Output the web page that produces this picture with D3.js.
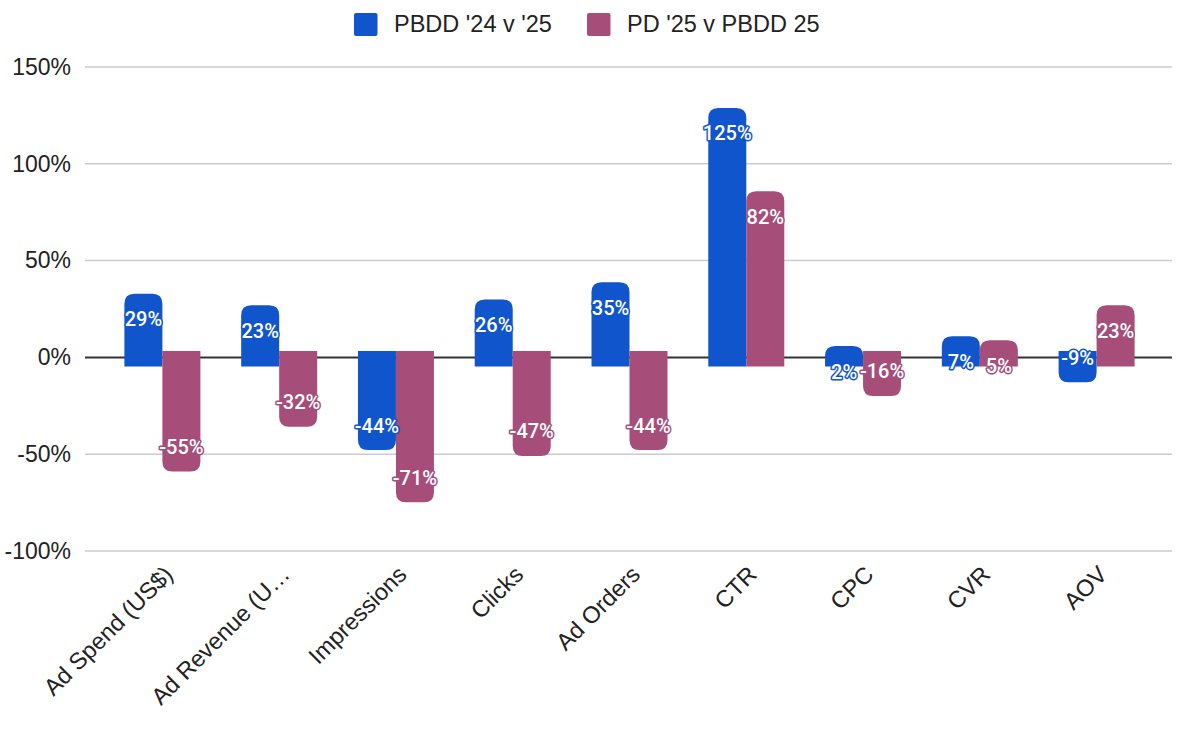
<!DOCTYPE html>
<html>
<head>
<meta charset="utf-8">
<script src="https://cdn.jsdelivr.net/npm/d3@7"></script>
<style>
  body { margin: 0; background: #fff; }
  svg { display: block; }
</style>
</head>
<body>
<div class="vis-bars"></div>
<script>
const categories = ['Ad Spend (US$)', 'Ad Revenue (U…', 'Impressions', 'Clicks', 'Ad Orders', 'CTR', 'CPC', 'CVR', 'AOV'];
const seriesNames = ["PBDD '24 v '25", "PD '25 v PBDD 25"];
const pbdd = [29, 23, -44, 26, 35, 125, 2, 7, -9];
const pd = [-55, -32, -71, -47, -44, 82, -16, 5, 23];
const yTicks = [-100, -50, 0, 50, 100, 150];
const colors = ['#1155cc', '#a64d79'];

const width = 1182;
const height = 738;

const svg = d3.select('.vis-bars')
    .append('svg')
    .attr('width', width)
    .attr('height', height);

const y = d3.scaleLinear().domain([-100, 150]).range([551, 67]);
const x0 = d3.scaleBand().domain(categories).range([104, 1155]);
const groupW = 76;
const x1 = d3.scaleBand().domain(seriesNames).range([0, groupW]);

// grid lines
svg.append('g')
    .selectAll('line')
    .data(yTicks.filter((d) => d !== 0))
    .join('line')
    .attr('x1', 85)
    .attr('x2', 1172)
    .attr('y1', (d) => y(d))
    .attr('y2', (d) => y(d))
    .attr('stroke', '#cccccc')
    .attr('stroke-width', 1.5);

// zero line (behind bars)
svg.append('line')
    .attr('x1', 85)
    .attr('x2', 1172)
    .attr('y1', y(0))
    .attr('y2', y(0))
    .attr('stroke', '#333333')
    .attr('stroke-width', 2);

// y axis labels
const yAxis = svg.append('g')
    .attr('transform', 'translate(71,0)')
    .call(d3.axisLeft(y).tickValues(yTicks).tickSize(0).tickPadding(0).tickFormat((d) => d + '%'));
yAxis.select('.domain').remove();
yAxis.selectAll('text')
    .attr('font-family', 'Liberation Sans, Arial, sans-serif')
    .attr('font-size', 23)
    .attr('fill', '#222');

// bar path: rounded at the value end, square at the base end
const r = 10;
const barPath = (xl, w, v) => {
    const xr = xl + w;
    if (v >= 0) {
        const t = y(v) - 7.5;
        const b = y(0) + 9;
        return `M${xl},${b}V${t + r}Q${xl},${t} ${xl + r},${t}H${xr - r}Q${xr},${t} ${xr},${t + r}V${b}Z`;
    }
    const t = y(0) - 6.5;
    const b = y(v) + 7.5;
    return `M${xl},${t}H${xr}V${b - r}Q${xr},${b} ${xr - r},${b}H${xl + r}Q${xl},${b} ${xl},${b - r}Z`;
};

const rows = categories.map((c, i) => ({ cat: c, vals: [pbdd[i], pd[i]] }));

const groups = svg.append('g')
    .selectAll('g')
    .data(rows)
    .join('g')
    .attr('transform', (d) => 'translate(' + (x0(d.cat) + (x0.bandwidth() - groupW) / 2) + ',0)');

groups.selectAll('path')
    .data((d) => d.vals.map((v, k) => ({ v: v, k: k })))
    .join('path')
    .attr('d', (d) => barPath(x1(seriesNames[d.k]), x1.bandwidth(), d.v))
    .attr('fill', (d) => colors[d.k]);

// data labels with a halo
groups.selectAll('text')
    .data((d) => d.vals.map((v, k) => ({ v: v, k: k })))
    .join('text')
    .attr('x', (d) => x1(seriesNames[d.k]) + x1.bandwidth() / 2)
    .attr('y', (d) => (d.v >= 0 ? y(d.v) + 18 : y(d.v) - 17) + 7)
    .attr('text-anchor', 'middle')
    .attr('font-family', 'Roboto, sans-serif')
    .attr('font-weight', 500)
    .attr('font-size', 20)
    .attr('fill', '#fff')
    .attr('stroke', (d) => colors[d.k])
    .attr('stroke-width', 3)
    .attr('stroke-linejoin', 'round')
    .attr('paint-order', 'stroke')
    .text((d) => d.v + '%');

// x axis labels, rotated
svg.append('g')
    .selectAll('text')
    .data(categories)
    .join('text')
    .attr('transform', (d) => 'translate(' + (x0(d) + x0.bandwidth() / 2 + 12) + ',576) rotate(-45)')
    .attr('text-anchor', 'end')
    .attr('font-family', 'Liberation Sans, Arial, sans-serif')
    .attr('font-size', 23.5)
    .attr('fill', '#222')
    .text((d) => d);

// legend
const legendX = [354, 587];
const legend = svg.append('g')
    .selectAll('g')
    .data(seriesNames)
    .join('g')
    .attr('transform', (d, i) => 'translate(' + legendX[i] + ',0)');
legend.append('rect')
    .attr('x', 0)
    .attr('y', 13)
    .attr('width', 23.5)
    .attr('height', 23)
    .attr('rx', 2)
    .attr('fill', (d, i) => colors[i]);
legend.append('text')
    .attr('x', 40)
    .attr('y', 32)
    .attr('font-family', 'Liberation Sans, Arial, sans-serif')
    .attr('font-size', 23.5)
    .attr('fill', '#222')
    .text((d) => d);
</script>
</body>
</html>
